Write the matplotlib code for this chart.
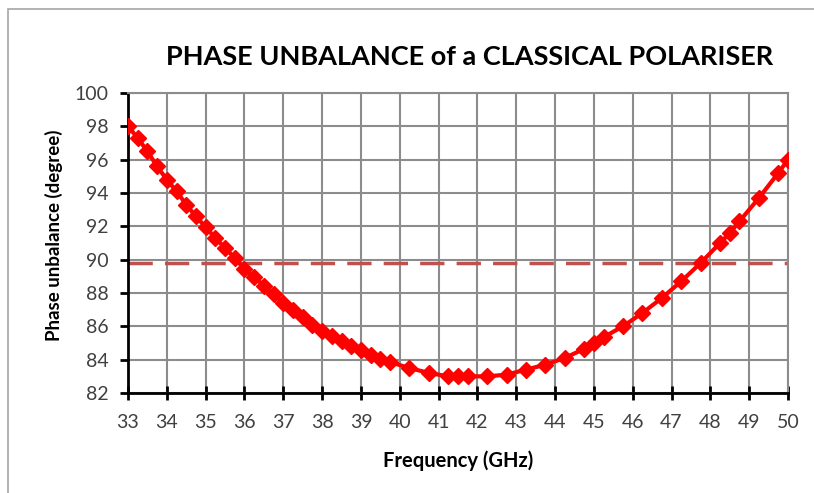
import numpy as np
import matplotlib.pyplot as plt
from matplotlib.patches import Rectangle

# frequency points (GHz) and phase unbalance (degree)
freq = [33.00, 33.25, 33.50, 33.75, 34.00, 34.25, 34.50, 34.75, 35.00, 35.25,
        35.50, 35.75, 36.00, 36.25, 36.50, 36.75, 37.00, 37.25, 37.50, 37.75,
        38.00, 38.25, 38.50, 38.75, 39.00, 39.25, 39.50, 39.75, 40.25, 40.75,
        41.25, 41.50, 41.75, 42.25, 42.75, 43.25, 43.75, 44.25, 44.75, 45.00,
        45.25, 45.75, 46.25, 46.75, 47.25, 47.75, 48.25, 48.50, 48.75, 49.25,
        49.75, 50.00]
phase = [98.0, 97.3, 96.5, 95.6, 94.8, 94.1, 93.3, 92.6, 91.95, 91.3,
         90.7, 90.1, 89.45, 88.95, 88.45, 87.95, 87.4, 87.0, 86.55, 86.1,
         85.75, 85.4, 85.1, 84.85, 84.6, 84.3, 84.05, 83.85, 83.5, 83.2,
         83.0, 83.0, 83.0, 83.0, 83.1, 83.4, 83.7, 84.1, 84.65, 85.0,
         85.35, 86.0, 86.8, 87.7, 88.7, 89.8, 91.0, 91.6, 92.3, 93.7,
         95.2, 96.0]
ref_level = 89.8

x_ticks = list(range(33, 51))
y_ticks = list(range(82, 101, 2))

plt.rcParams['font.family'] = ['Lato', 'DejaVu Sans']

fig = plt.figure(figsize=(8.14, 4.93), dpi=100)
# outer chart-area border (runs off the right and bottom edges)
fig.patches.append(Rectangle((8 / 814, -0.1), 1.1, 1 - 9 / 493 + 0.1,
                             transform=fig.transFigure, fill=False,
                             edgecolor='#a6a6a6', linewidth=1.2))

ax = fig.add_axes([128 / 814, 1 - 393 / 493, 660 / 814, 300 / 493])

ax.plot([33, 50], [ref_level, ref_level], color='#c0504d', linewidth=2.5,
        dashes=(7, 3.5), zorder=2)
ax.plot(freq, phase, color='#ff0000', linewidth=3, marker='D',
        markersize=8.5, zorder=3, clip_on=True)

ax.set_xlim(33, 50)
ax.set_ylim(82, 100)
ax.set_xticks(x_ticks)
ax.set_yticks(y_ticks)
ax.grid(True, color='#8c8c8c', linewidth=1.5)
ax.set_axisbelow(True)

for side in ['top', 'right']:
    ax.spines[side].set_color('#8c8c8c')
    ax.spines[side].set_linewidth(1.5)
for side in ['left', 'bottom']:
    ax.spines[side].set_color('black')
    ax.spines[side].set_linewidth(2)

ax.tick_params(axis='y', direction='out', length=6, width=2, pad=8,
               labelsize=14, color='black', labelcolor='#404040')
ax.tick_params(axis='x', direction='inout', length=10, width=2, pad=10,
               labelsize=14, color='black', labelcolor='#404040')

ax.set_xlabel('Frequency (GHz)', fontsize=14.5, fontweight='bold', labelpad=14)
ax.set_ylabel('Phase unbalance (degree)', fontsize=13.5, fontweight='bold')
ax.yaxis.set_label_coords(-0.098, 0.527)

fig.text(470 / 814, 1 - 57 / 493, 'PHASE UNBALANCE of a CLASSICAL POLARISER',
         ha='center', va='center', fontsize=19.5, fontweight='bold')

fig.savefig('out.png', dpi=100)
